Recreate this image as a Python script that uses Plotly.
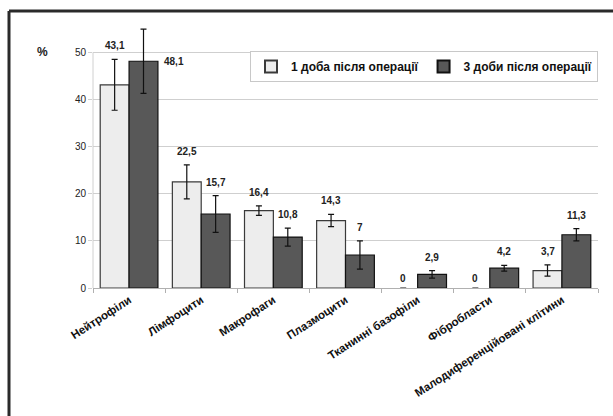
import plotly.graph_objects as go

categories = ["Нейтрофіли", "Лімфоцити", "Макрофаги", "Плазмоцити",
              "Тканинні базофіли", "Фібробласти", "Малодиференційовані клітини"]
series1_name = "1 доба після операції"
series2_name = "3 доби після операції"
day1 = [43.1, 22.5, 16.4, 14.3, 0, 0, 3.7]
day3 = [48.1, 15.7, 10.8, 7, 2.9, 4.2, 11.3]
day1_err = [5.4, 3.6, 1.0, 1.3, 0, 0, 1.2]
day3_err = [6.8, 3.9, 1.9, 3.0, 0.8, 0.6, 1.3]
day1_lbl = ["43,1", "22,5", "16,4", "14,3", "0", "0", "3,7"]
day3_lbl = ["48,1", "15,7", "10,8", "7", "2,9", "4,2", "11,3"]
y_ticks = [0, 10, 20, 30, 40, 50]

FONT = "Liberation Sans, Arial, sans-serif"

fig = go.Figure()
fig.add_trace(go.Bar(
    name="<b>%s</b>" % series1_name, x=categories, y=day1,
    marker=dict(color="#ededed",
                line=dict(color="#3a3a3a", width=[1.2 if v > 0 else 0 for v in day1])),
    error_y=dict(type="data", array=day1_err, visible=True, color="#111", thickness=1.2, width=3),
))
fig.add_trace(go.Bar(
    name="<b>%s</b>" % series2_name, x=categories, y=day3,
    marker=dict(color="#585858",
                line=dict(color="#111", width=[1.2 if v > 0 else 0 for v in day3])),
    error_y=dict(type="data", array=day3_err, visible=True, color="#111", thickness=1.2, width=3),
))

LBL_FONT = dict(size=10, family=FONT, color="#222")
annotations = []
for i, cat in enumerate(categories):
    annotations.append(dict(
        x=i - 0.2, y=day1[i] + day1_err[i], xref="x", yref="y", text="<b>%s</b>" % day1_lbl[i],
        showarrow=False, yanchor="bottom", yshift=6 if day1[i] > 0 else 2, font=LBL_FONT))
    if i == 0:
        annotations.append(dict(
            x=i + 0.2, y=day3[i], xref="x", yref="y", text="<b>%s</b>" % day3_lbl[i],
            showarrow=False, yanchor="middle", xanchor="left", xshift=18, font=LBL_FONT))
    else:
        annotations.append(dict(
            x=i + 0.2, y=day3[i] + day3_err[i], xref="x", yref="y", text="<b>%s</b>" % day3_lbl[i],
            showarrow=False, yanchor="bottom", yshift=6, font=LBL_FONT))

annotations.append(dict(x=-0.1, xref="paper", y=50, yref="y", text="<b>%</b>",
                        showarrow=False, xanchor="center", yanchor="middle",
                        font=dict(size=12, family=FONT, color="#222")))

# plot area: x 93..598, y 24..288 px (y=50 at 52 px)
H_PLOT = 264.0
W_PLOT = 505.0
def py(pix):
    return (288 - pix) / H_PLOT
def px(pix):
    return (pix - 93) / W_PLOT

fig.update_layout(
    width=613, height=416,
    margin=dict(l=93, r=15, t=24, b=128, autoexpand=False),
    paper_bgcolor="white", plot_bgcolor="white",
    barmode="group", bargap=0.2, bargroupgap=0,
    font=dict(family=FONT, color="#222"),
    showlegend=True,
    legend=dict(orientation="h", x=1, xanchor="right", y=py(51), yanchor="top",
                bgcolor="white", bordercolor="#c8c8c8", borderwidth=1,
                font=dict(size=12, family=FONT, color="#111"),
                itemsizing="constant", itemwidth=30, tracegroupgap=0),
    annotations=annotations,
    shapes=[
        dict(type="line", xref="paper", yref="paper", x0=px(9), x1=px(9), y0=py(11), y1=py(420),
             line=dict(color="#2a2a2a", width=3)),
        dict(type="line", xref="paper", yref="paper", x0=px(9), x1=px(620), y0=py(11), y1=py(11),
             line=dict(color="#2a2a2a", width=3)),
    ],
)
fig.update_xaxes(
    automargin=False,
    tickangle=-33, tickfont=dict(size=11.5, family=FONT, color="#111"),
    showline=True, linecolor="#b0b0b0", linewidth=1,
    ticks="outside", tickson="boundaries", ticklen=4, tickcolor="#b0b0b0",
    tickprefix="<b>", ticksuffix="</b>",
)
fig.update_yaxes(
    automargin=False,
    range=[0, 56], tickvals=y_ticks,
    tickfont=dict(size=10, family=FONT, color="#222"),
    tickprefix="<b>", ticksuffix="</b>",
    showgrid=True, gridcolor="#cfcfcf", gridwidth=1,
    showline=False,
    ticks="outside", ticklen=4, tickcolor="#d0d0d0",
    zeroline=False,
)
fig.add_shape(type="line", xref="paper", yref="y", x0=0, x1=0, y0=0, y1=50,
              line=dict(color="#d0d0d0", width=1), layer="below")

fig.write_html("out.html", config={"displayModeBar": False},
               post_script="document.body.style.margin='0';document.body.style.overflow='hidden';")
